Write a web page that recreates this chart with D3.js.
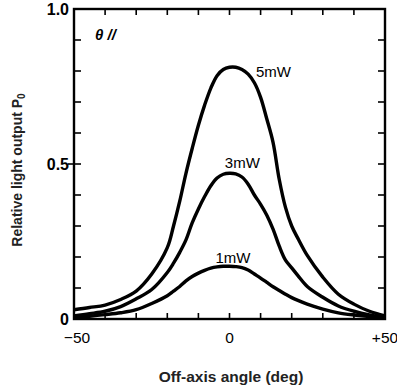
<!DOCTYPE html>
<html>
<head>
<meta charset="utf-8">
<script src="https://cdn.jsdelivr.net/npm/d3@7"></script>
<style>
  html, body { margin: 0; padding: 0; background: #fff; }
  svg { display: block; font-family: "Liberation Sans", Arial, sans-serif; }
</style>
</head>
<body>
<svg id="chart" width="397" height="391"></svg>
<script>
// ---- data ----
const angles = [-50,-45,-40,-35,-30,-25,-20,-18,-16,-14,-12,-10,-8,-6,-4,-2,0,2,4,6,8,10,12,14,16,18,20,22,25,30,35,40,45,50];
const p5mW = [0.03,0.037,0.045,0.063,0.09,0.145,0.23,0.30,0.38,0.47,0.55,0.625,0.69,0.745,0.785,0.805,0.812,0.812,0.805,0.79,0.762,0.715,0.645,0.57,0.45,0.36,0.30,0.26,0.205,0.135,0.08,0.048,0.025,0.01];
const p3mW = [0.01,0.017,0.025,0.04,0.065,0.095,0.15,0.18,0.215,0.255,0.31,0.355,0.395,0.43,0.455,0.467,0.47,0.468,0.458,0.435,0.40,0.37,0.335,0.29,0.235,0.19,0.165,0.14,0.105,0.07,0.042,0.025,0.013,0.005];
const p1mW = [0.005,0.009,0.014,0.02,0.03,0.05,0.075,0.09,0.105,0.123,0.137,0.148,0.157,0.164,0.168,0.17,0.17,0.169,0.166,0.158,0.145,0.132,0.118,0.104,0.092,0.08,0.069,0.06,0.048,0.032,0.02,0.013,0.008,0.005];
const seriesNames = ["5mW", "3mW", "1mW"];
const seriesLabelAt = [[8.5, 0.782], [-1.5, 0.487], [-4.5, 0.18]];
const xTickValues = [-50,-40,-30,-20,-10,0,10,20,30,40,50];
const xTickLabels = ["\u221250", "0", "+50"];
const xLabelValues = [-50, 0, 50];
const yTickValues = [0,0.1,0.2,0.3,0.4,0.5,0.6,0.7,0.8,0.9,1.0];
const yLabelValues = [0, 0.5, 1.0];
const yTickLabels = ["0", "0.5", "1.0"];

// ---- layout ----
const svg = d3.select("#chart");
const L = 74, R = 385, T = 9, B = 319;
const x = d3.scaleLinear().domain([-50, 50]).range([L, R]);
const y = d3.scaleLinear().domain([0, 1]).range([B, T]);

// frame
svg.append("rect").attr("x", L).attr("y", T).attr("width", R - L).attr("height", B - T)
  .attr("fill", "none").attr("stroke", "#000").attr("stroke-width", 2.4);

// ticks (inward)
const g = svg.append("g").attr("stroke", "#000").attr("stroke-width", 1.6);
xTickValues.forEach(v => {
  g.append("line").attr("x1", x(v)).attr("x2", x(v)).attr("y1", B).attr("y2", B - 6);
  g.append("line").attr("x1", x(v)).attr("x2", x(v)).attr("y1", T).attr("y2", T + 6);
});
yTickValues.forEach(v => {
  const out = (v === 0.5) ? 6 : 0;
  g.append("line").attr("x1", L - out).attr("x2", L + 7).attr("y1", y(v)).attr("y2", y(v));
  g.append("line").attr("x1", R).attr("x2", R - 7).attr("y1", y(v)).attr("y2", y(v));
});

// tick labels
xLabelValues.forEach((v, i) => {
  svg.append("text").attr("x", x(v) + (i === 0 ? 3 : 0)).attr("y", 343)
    .attr("text-anchor", "middle").attr("font-size", 15.5).attr("fill", "#000")
    .text(xTickLabels[i]);
});
yLabelValues.forEach((v, i) => {
  svg.append("text").attr("x", L - 5).attr("y", y(v) + 6)
    .attr("text-anchor", "end").attr("font-size", 16).attr("font-weight", "bold").attr("fill", "#000")
    .text(yTickLabels[i]);
});

// curves
const data = [p5mW, p3mW, p1mW];
const line = d3.line().x(d => x(d[0])).y(d => y(d[1])).curve(d3.curveCatmullRom.alpha(0.5));
data.forEach(vals => {
  svg.append("path").datum(angles.map((a, i) => [a, vals[i]]))
    .attr("d", line).attr("fill", "none").attr("stroke", "#000")
    .attr("stroke-width", 3.4).attr("stroke-linejoin", "round");
});

// curve labels
seriesNames.forEach((n, i) => {
  svg.append("text").attr("x", x(seriesLabelAt[i][0])).attr("y", y(seriesLabelAt[i][1]))
    .attr("font-size", 15).attr("fill", "#000").text(n);
});

// theta label
svg.append("text").attr("x", 95).attr("y", 40).attr("font-size", 15)
  .attr("font-style", "italic").attr("font-weight", "bold").attr("fill", "#000").text("\u03B8 //");

// axis titles
svg.append("text").attr("x", 231).attr("y", 382).attr("text-anchor", "middle")
  .attr("font-size", 15.5).attr("font-weight", "bold").attr("fill", "#222").text("Off-axis angle (deg)");

const yt = svg.append("text").attr("transform", "translate(22,170) rotate(-90)")
  .attr("text-anchor", "middle").attr("font-size", 14).attr("font-weight", "bold").attr("fill", "#222");
yt.append("tspan").text("Relative light output P");
yt.append("tspan").attr("font-size", 10).attr("dy", 3).text("0");
</script>
</body>
</html>
